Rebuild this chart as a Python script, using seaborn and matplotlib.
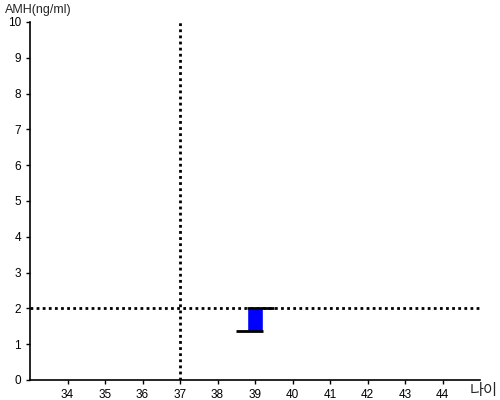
import matplotlib
matplotlib.use("Agg")
import matplotlib.pyplot as plt
import seaborn as sns

# data
age = [39]
amh_low = [1.38]
amh_high = [2.0]
ref_age = 37
ref_amh = 2.0
x_ticks = list(range(34, 45))
y_ticks = list(range(0, 11))

sns.set_style("ticks")
plt.rcParams['font.family'] = ['Liberation Sans', 'Noto Sans CJK KR', 'DejaVu Sans']

fig = plt.figure(figsize=(5, 4), dpi=100)
ax = fig.add_axes([0.06, 0.05, 0.90, 0.895])

# box between low and high
heights = [h - l for h, l in zip(amh_high, amh_low)]
ax.bar(age, heights, bottom=amh_low, width=0.42, color='#0000ff', zorder=3)
# open/close style ticks
ax.hlines(amh_high, [a - 0.21 for a in age], [a + 0.5 for a in age], color='black', lw=2, zorder=4)
ax.hlines(amh_low, [a - 0.5 for a in age], [a + 0.21 for a in age], color='black', lw=2, zorder=4)

# reference lines
ax.axvline(ref_age, color='black', lw=2, ls=(0, (1, 1.2)), zorder=2)
ax.axhline(ref_amh, color='black', lw=2, ls=(0, (1, 1.2)), zorder=2)

ax.set_xlim(33, 45)
ax.set_ylim(0, 10)
ax.set_xticks(x_ticks)
ax.set_yticks(y_ticks)
ax.tick_params(labelsize=8.5, length=3, width=1, colors='black')
sns.despine(ax=ax)
for s in ['left', 'bottom']:
    ax.spines[s].set_linewidth(1.2)
    ax.spines[s].set_color('black')

fig.text(0.01, 0.99, "AMH(ng/ml)", fontsize=9, va='top', ha='left')
fig.text(0.995, 0.003, "나이", fontsize=11, va='bottom', ha='right',
         family=['Noto Sans CJK KR', 'DejaVu Sans'])

fig.savefig("out.png", dpi=100)
